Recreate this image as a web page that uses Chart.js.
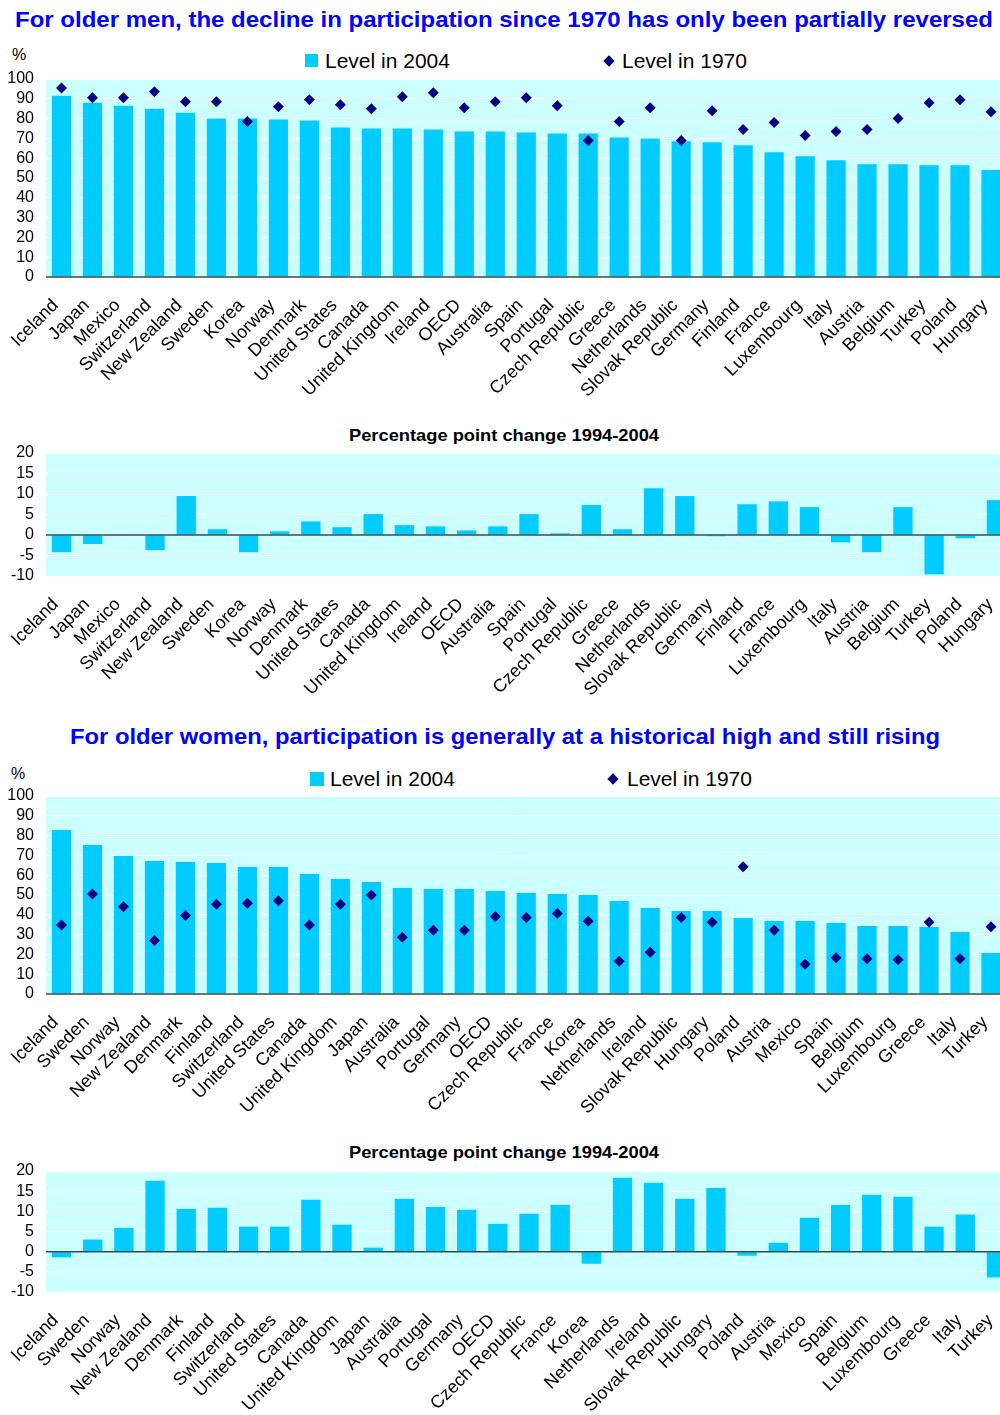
<!DOCTYPE html>
<html>
<head>
<meta charset="utf-8">
<script src="https://cdn.jsdelivr.net/npm/chart.js@4.4.1/dist/chart.umd.min.js"></script>
<style>
html,body{margin:0;padding:0;width:1000px;height:1415px;overflow:hidden;background:#fff}
body{position:relative;font-family:"Liberation Sans",Arial,sans-serif;color:#000}
.box{position:absolute;left:0}
.t{position:absolute;white-space:nowrap;transform-origin:left center;line-height:1}
.title{font-weight:bold;font-size:22px;color:#0000ff}
.sub{font-weight:bold;font-size:17px}
.leg{font-size:21px}
.pct{font-size:16px}
.sq{position:absolute;background:#00ccff}
.dia{position:absolute;width:8px;height:8px;background:#000080;transform:rotate(45deg)}
</style>
</head>
<body>

<div class="t title" id="t1" style="left:15px;top:9px">For older men, the decline in participation since 1970 has only been partially reversed</div>
<div class="t pct" style="left:12px;top:47px">%</div>
<div class="sq" style="left:305px;top:54px;width:13px;height:13px"></div>
<div class="t leg" style="left:325px;top:50px">Level in 2004</div>
<div class="dia" style="left:605px;top:57px"></div>
<div class="t leg" style="left:622px;top:50px">Level in 1970</div>
<div class="box" style="top:69px"><canvas id="c1" width="1012" height="338"></canvas></div>

<div class="t sub" id="s2" style="left:349px;top:427px">Percentage point change 1994-2004</div>
<div class="box" style="top:443px"><canvas id="c2" width="1012" height="253"></canvas></div>

<div class="t title" id="t3" style="left:70px;top:726px">For older women, participation is generally at a historical high and still rising</div>
<div class="t pct" style="left:11px;top:766px">%</div>
<div class="sq" style="left:310px;top:772px;width:14px;height:14px"></div>
<div class="t leg" style="left:330px;top:768px">Level in 2004</div>
<div class="dia" style="left:609px;top:775px"></div>
<div class="t leg" style="left:627px;top:768px">Level in 1970</div>
<div class="box" style="top:786px"><canvas id="c3" width="1012" height="338"></canvas></div>

<div class="t sub" id="s4" style="left:349px;top:1144px">Percentage point change 1994-2004</div>
<div class="box" style="top:1161px"><canvas id="c4" width="1012" height="251"></canvas></div>

<script>
// older men
const menCountries = ['Iceland','Japan','Mexico','Switzerland','New Zealand','Sweden','Korea','Norway','Denmark','United States','Canada','United Kingdom','Ireland','OECD','Australia','Spain','Portugal','Czech Republic','Greece','Netherlands','Slovak Republic','Germany','Finland','France','Luxembourg','Italy','Austria','Belgium','Turkey','Poland','Hungary'];
const men2004 = [91.5,88,86.5,85,83,80,80,79.5,79,75.5,75,75,74.5,73.5,73.5,73,72.5,72.5,70.5,70,68.5,68,66.5,63,61,59,57,57,56.5,56.5,54];
const men1970 = [95.5,90.5,90.5,93.5,88.5,88.5,78.5,86,89.5,87,85,91,93,85.5,88.5,90.5,86.5,69,78.5,85.5,69,84,74.5,78,71.5,73.5,74.5,80,88,89.5,83.5];
const menChange = [-4.2,-2.2,0,-3.7,9.5,1.4,-4.2,0.9,3.3,1.9,5.1,2.4,2.1,1.1,2.1,5.1,0.4,7.3,1.4,11.4,9.5,-0.3,7.5,8.2,6.8,-1.8,-4.2,6.8,-9.6,-0.8,8.5];

// older women
const womenCountries = ['Iceland','Sweden','Norway','New Zealand','Denmark','Finland','Switzerland','United States','Canada','United Kingdom','Japan','Australia','Portugal','Germany','OECD','Czech Republic','France','Korea','Netherlands','Ireland','Slovak Republic','Hungary','Poland','Austria','Mexico','Spain','Belgium','Luxembourg','Greece','Italy','Turkey'];
const women2004 = [82.8,75.3,69.7,67.2,66.7,66.2,64.1,64.1,60.6,58.1,56.6,53.5,53,53,52,51,50.5,50,47,43.4,41.9,41.9,38.4,36.9,36.9,35.9,34.3,34.3,33.8,31.3,20.7];
const women1970 = [34.8,50.5,44.1,27,39.6,45.3,45.8,47.1,34.8,45.3,50,28.6,32.2,32.2,39.1,38.6,40.7,36.7,16.5,21.1,38.6,36.2,64.3,32.2,15,18.3,17.8,17.3,36.2,17.8,34];
const womenChange = [-1.4,3,5.9,17.6,10.6,10.9,6.2,6.2,12.9,6.7,1,13.1,11.1,10.4,6.9,9.4,11.6,-3,18.3,17.1,13.1,15.8,-1,2.2,8.4,11.6,14.1,13.6,6.2,9.2,-6.4];

const FONT = '"Liberation Sans", Arial, sans-serif';
const BAR = '#00ccff', DOT = '#000080';

// fit the wide titles to the width they have in the picture
function fit(id, w){
	const el = document.getElementById(id);
	const r = el.getBoundingClientRect().width;
	el.style.transform = 'scaleX(' + (w / r) + ')';
}
fit('t1', 978);
fit('t3', 870);
fit('s2', 310);
fit('s4', 310);

const bgPlugin = {
	id: 'bg',
	beforeDraw(chart){
		const a = chart.chartArea, ctx = chart.ctx;
		ctx.save();
		ctx.fillStyle = '#ccffff';
		ctx.fillRect(a.left, a.top, a.right - a.left, a.bottom - a.top);
		ctx.restore();
	}
};
const zeroPlugin = {
	id: 'zero',
	afterDatasetsDraw(chart){
		const a = chart.chartArea, ctx = chart.ctx;
		const y = chart.scales.y.getPixelForValue(0);
		ctx.save();
		ctx.strokeStyle = '#3a4a4a';
		ctx.lineWidth = 1.5;
		ctx.beginPath();
		ctx.moveTo(a.left, y);
		ctx.lineTo(a.right, y);
		ctx.stroke();
		ctx.restore();
	}
};

function drawChart(id, labels, bars, points, min, max, step, xh){
	const datasets = [];
	if (points){
		datasets.push({
			type: 'line',
			data: points,
			showLine: false,
			pointStyle: 'rectRot',
			pointRadius: 5.5,
			pointBackgroundColor: DOT,
			pointBorderColor: DOT,
			pointBorderWidth: 0,
			order: 0
		});
	}
	datasets.push({
		data: bars,
		backgroundColor: BAR,
		barPercentage: 0.62,
		categoryPercentage: 1,
		order: 1
	});
	return new Chart(document.getElementById(id), {
		type: 'bar',
		data: { labels: labels, datasets: datasets },
		options: {
			responsive: false,
			animation: false,
			layout: { padding: { top: 10, left: 0, right: 0, bottom: 0 } },
			plugins: { legend: { display: false }, tooltip: { enabled: false } },
			scales: {
				x: {
					grid: { display: false },
					border: { display: false },
					ticks: {
						autoSkip: false, maxRotation: 45, minRotation: 45,
						color: '#000', padding: 10, labelOffset: -6,
						font: { family: FONT, size: 18 }
					},
					afterFit: s => { s.height = xh; s.paddingLeft = 0; s.paddingRight = 0; }
				},
				y: {
					min: min, max: max,
					grid: { color: '#ffffff', lineWidth: 1, drawTicks: false },
					border: { display: false },
					ticks: {
						stepSize: step, color: '#000', padding: 12,
						font: { family: FONT, size: 16, lineHeight: 1 }
					},
					afterFit: s => { s.width = 46; s.paddingTop = 8; s.paddingBottom = 8; }
				}
			}
		},
		plugins: [bgPlugin, zeroPlugin]
	});
}

drawChart('c1', menCountries, men2004, men1970, 0, 100, 10, 130);
drawChart('c2', menCountries, menChange, null, -10, 20, 5, 120);
drawChart('c3', womenCountries, women2004, women1970, 0, 100, 10, 130);
drawChart('c4', womenCountries, womenChange, null, -10, 20, 5, 120);
</script>
</body>
</html>
